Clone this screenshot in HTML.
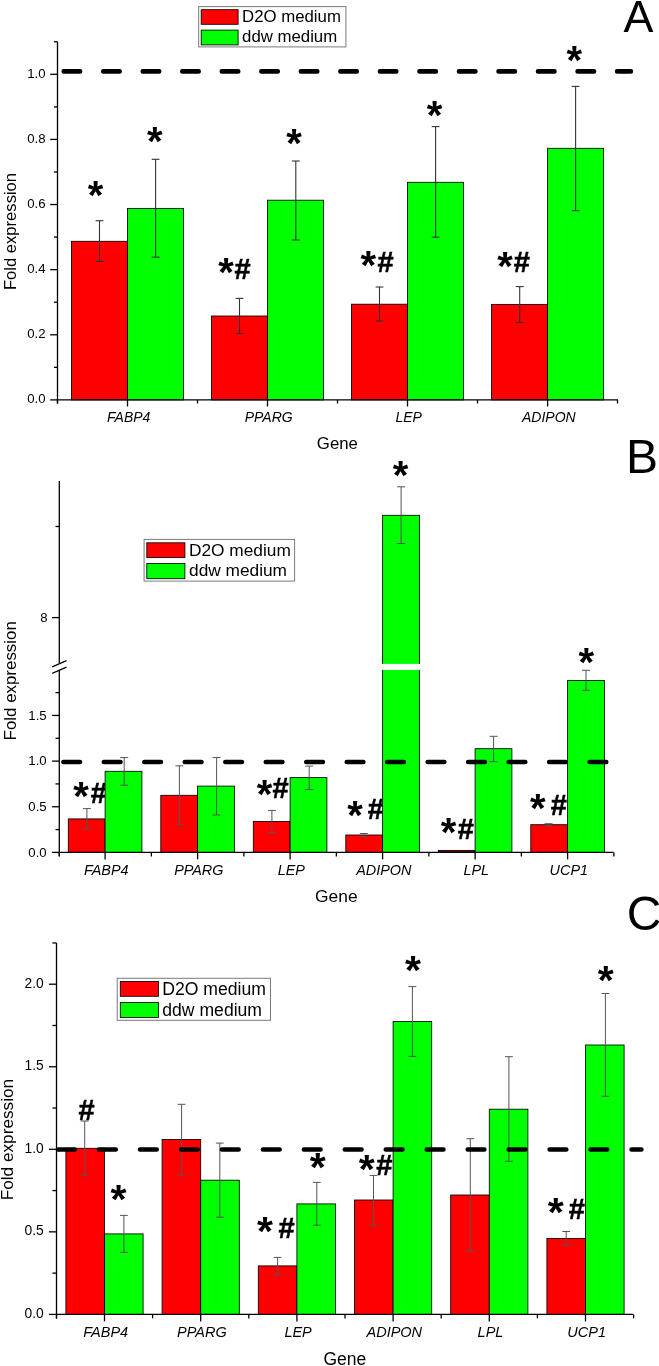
<!DOCTYPE html>
<html><head><meta charset="utf-8"><style>
html,body{margin:0;padding:0;background:#fff;overflow:hidden;}
svg{display:block;}
#w{will-change:transform;width:659px;height:1366px;}
text{font-family:"Liberation Sans",sans-serif;fill:#000;}
</style></head><body><div id="w">
<svg width="659" height="1366" viewBox="0 0 659 1366">
<line x1="57.50" y1="41.74" x2="57.50" y2="403.40" stroke="#000" stroke-width="1.3" />
<line x1="50.20" y1="399.90" x2="57.50" y2="399.90" stroke="#000" stroke-width="1.3" />
<text x="45.50" y="403.20" font-size="13.2" text-anchor="end" font-weight="normal" font-style="normal" >0.0</text>
<line x1="50.20" y1="334.78" x2="57.50" y2="334.78" stroke="#000" stroke-width="1.3" />
<text x="45.50" y="338.08" font-size="13.2" text-anchor="end" font-weight="normal" font-style="normal" >0.2</text>
<line x1="50.20" y1="269.66" x2="57.50" y2="269.66" stroke="#000" stroke-width="1.3" />
<text x="45.50" y="272.96" font-size="13.2" text-anchor="end" font-weight="normal" font-style="normal" >0.4</text>
<line x1="50.20" y1="204.54" x2="57.50" y2="204.54" stroke="#000" stroke-width="1.3" />
<text x="45.50" y="207.84" font-size="13.2" text-anchor="end" font-weight="normal" font-style="normal" >0.6</text>
<line x1="50.20" y1="139.42" x2="57.50" y2="139.42" stroke="#000" stroke-width="1.3" />
<text x="45.50" y="142.72" font-size="13.2" text-anchor="end" font-weight="normal" font-style="normal" >0.8</text>
<line x1="50.20" y1="74.30" x2="57.50" y2="74.30" stroke="#000" stroke-width="1.3" />
<text x="45.50" y="77.60" font-size="13.2" text-anchor="end" font-weight="normal" font-style="normal" >1.0</text>
<line x1="53.90" y1="367.34" x2="57.50" y2="367.34" stroke="#000" stroke-width="1.3" />
<line x1="53.90" y1="302.22" x2="57.50" y2="302.22" stroke="#000" stroke-width="1.3" />
<line x1="53.90" y1="237.10" x2="57.50" y2="237.10" stroke="#000" stroke-width="1.3" />
<line x1="53.90" y1="171.98" x2="57.50" y2="171.98" stroke="#000" stroke-width="1.3" />
<line x1="53.90" y1="106.86" x2="57.50" y2="106.86" stroke="#000" stroke-width="1.3" />
<line x1="53.90" y1="41.74" x2="57.50" y2="41.74" stroke="#000" stroke-width="1.3" />
<rect x="71.50" y="241.30" width="56.00" height="158.60" fill="#ff0000" stroke="#000" stroke-width="0.85"/>
<rect x="127.50" y="208.40" width="56.00" height="191.50" fill="#00ff00" stroke="#000" stroke-width="0.85"/>
<rect x="211.50" y="316.00" width="56.00" height="83.90" fill="#ff0000" stroke="#000" stroke-width="0.85"/>
<rect x="267.50" y="200.20" width="56.00" height="199.70" fill="#00ff00" stroke="#000" stroke-width="0.85"/>
<rect x="351.50" y="304.20" width="56.00" height="95.70" fill="#ff0000" stroke="#000" stroke-width="0.85"/>
<rect x="407.50" y="182.30" width="56.00" height="217.60" fill="#00ff00" stroke="#000" stroke-width="0.85"/>
<rect x="491.60" y="304.40" width="56.00" height="95.50" fill="#ff0000" stroke="#000" stroke-width="0.85"/>
<rect x="547.60" y="148.30" width="56.00" height="251.60" fill="#00ff00" stroke="#000" stroke-width="0.85"/>
<line x1="57.50" y1="399.90" x2="618.00" y2="399.90" stroke="#000" stroke-width="1.3" />
<line x1="127.50" y1="399.90" x2="127.50" y2="406.50" stroke="#000" stroke-width="1.3" />
<line x1="267.50" y1="399.90" x2="267.50" y2="406.50" stroke="#000" stroke-width="1.3" />
<line x1="407.50" y1="399.90" x2="407.50" y2="406.50" stroke="#000" stroke-width="1.3" />
<line x1="547.60" y1="399.90" x2="547.60" y2="406.50" stroke="#000" stroke-width="1.3" />
<line x1="57.50" y1="399.90" x2="57.50" y2="403.50" stroke="#000" stroke-width="1.3" />
<line x1="197.50" y1="399.90" x2="197.50" y2="403.50" stroke="#000" stroke-width="1.3" />
<line x1="337.50" y1="399.90" x2="337.50" y2="403.50" stroke="#000" stroke-width="1.3" />
<line x1="477.50" y1="399.90" x2="477.50" y2="403.50" stroke="#000" stroke-width="1.3" />
<line x1="617.50" y1="399.90" x2="617.50" y2="403.50" stroke="#000" stroke-width="1.3" />
<line x1="99.50" y1="220.70" x2="99.50" y2="261.50" stroke="#333" stroke-width="1.1" />
<line x1="95.60" y1="220.70" x2="103.40" y2="220.70" stroke="#333" stroke-width="1.1" />
<line x1="95.60" y1="261.50" x2="103.40" y2="261.50" stroke="#333" stroke-width="1.1" />
<line x1="155.60" y1="159.30" x2="155.60" y2="257.20" stroke="#333" stroke-width="1.1" />
<line x1="151.70" y1="159.30" x2="159.50" y2="159.30" stroke="#333" stroke-width="1.1" />
<line x1="151.70" y1="257.20" x2="159.50" y2="257.20" stroke="#333" stroke-width="1.1" />
<line x1="239.50" y1="298.40" x2="239.50" y2="333.50" stroke="#333" stroke-width="1.1" />
<line x1="235.60" y1="298.40" x2="243.40" y2="298.40" stroke="#333" stroke-width="1.1" />
<line x1="235.60" y1="333.50" x2="243.40" y2="333.50" stroke="#333" stroke-width="1.1" />
<line x1="295.80" y1="161.00" x2="295.80" y2="240.00" stroke="#333" stroke-width="1.1" />
<line x1="291.90" y1="161.00" x2="299.70" y2="161.00" stroke="#333" stroke-width="1.1" />
<line x1="291.90" y1="240.00" x2="299.70" y2="240.00" stroke="#333" stroke-width="1.1" />
<line x1="379.50" y1="287.00" x2="379.50" y2="321.00" stroke="#333" stroke-width="1.1" />
<line x1="375.60" y1="287.00" x2="383.40" y2="287.00" stroke="#333" stroke-width="1.1" />
<line x1="375.60" y1="321.00" x2="383.40" y2="321.00" stroke="#333" stroke-width="1.1" />
<line x1="435.60" y1="126.60" x2="435.60" y2="237.20" stroke="#333" stroke-width="1.1" />
<line x1="431.70" y1="126.60" x2="439.50" y2="126.60" stroke="#333" stroke-width="1.1" />
<line x1="431.70" y1="237.20" x2="439.50" y2="237.20" stroke="#333" stroke-width="1.1" />
<line x1="519.70" y1="286.60" x2="519.70" y2="322.50" stroke="#333" stroke-width="1.1" />
<line x1="515.80" y1="286.60" x2="523.60" y2="286.60" stroke="#333" stroke-width="1.1" />
<line x1="515.80" y1="322.50" x2="523.60" y2="322.50" stroke="#333" stroke-width="1.1" />
<line x1="575.60" y1="86.40" x2="575.60" y2="210.70" stroke="#333" stroke-width="1.1" />
<line x1="571.70" y1="86.40" x2="579.50" y2="86.40" stroke="#333" stroke-width="1.1" />
<line x1="571.70" y1="210.70" x2="579.50" y2="210.70" stroke="#333" stroke-width="1.1" />
<line x1="63.70" y1="71.40" x2="630.90" y2="71.40" stroke="#000" stroke-width="4.6" stroke-linecap="round" stroke-dasharray="16.40 23.13"/>
<text x="87.80" y="208.70" font-size="40.0" text-anchor="start" font-weight="bold" font-style="normal" >*</text>
<text x="147.10" y="154.80" font-size="40.0" text-anchor="start" font-weight="bold" font-style="normal" >*</text>
<text x="286.20" y="157.20" font-size="40.0" text-anchor="start" font-weight="bold" font-style="normal" >*</text>
<text x="426.80" y="128.90" font-size="40.0" text-anchor="start" font-weight="bold" font-style="normal" >*</text>
<text x="566.60" y="73.50" font-size="40.0" text-anchor="start" font-weight="bold" font-style="normal" >*</text>
<text x="218.20" y="286.10" font-size="40.0" text-anchor="start" font-weight="bold" font-style="normal" >*</text>
<text x="234.43" y="278.80" font-size="29.0" text-anchor="start" font-weight="bold" font-style="normal" stroke="#000" stroke-width="0.5">#</text>
<text x="360.60" y="279.10" font-size="40.0" text-anchor="start" font-weight="bold" font-style="normal" >*</text>
<text x="377.43" y="271.50" font-size="29.0" text-anchor="start" font-weight="bold" font-style="normal" stroke="#000" stroke-width="0.5">#</text>
<text x="497.30" y="280.00" font-size="40.0" text-anchor="start" font-weight="bold" font-style="normal" >*</text>
<text x="513.83" y="271.90" font-size="29.0" text-anchor="start" font-weight="bold" font-style="normal" stroke="#000" stroke-width="0.5">#</text>
<text x="128.70" y="421.90" font-size="14" text-anchor="middle" font-weight="normal" font-style="italic" >FABP4</text>
<text x="268.70" y="421.90" font-size="14" text-anchor="middle" font-weight="normal" font-style="italic" >PPARG</text>
<text x="408.70" y="421.90" font-size="14" text-anchor="middle" font-weight="normal" font-style="italic" >LEP</text>
<text x="548.80" y="421.90" font-size="14" text-anchor="middle" font-weight="normal" font-style="italic" >ADIPON</text>
<text x="337.40" y="448.60" font-size="16.8" text-anchor="middle" font-weight="normal" font-style="normal" >Gene</text>
<text x="0.00" y="0.00" font-size="16.6" text-anchor="middle" font-weight="normal" font-style="normal" transform="translate(15.9,231.5) rotate(-90)">Fold expression</text>
<rect x="198.70" y="6.60" width="147.20" height="40.30" fill="#fff" stroke="#7a7a7a" stroke-width="1.0"/>
<rect x="201.20" y="9.70" width="36.90" height="14.60" fill="#ff0000" stroke="#000" stroke-width="0.85"/>
<rect x="201.20" y="30.10" width="36.90" height="14.80" fill="#00ff00" stroke="#000" stroke-width="0.85"/>
<text x="242.06" y="22.30" font-size="16.8" text-anchor="start" font-weight="normal" font-style="normal" >D2O medium</text>
<text x="242.06" y="42.20" font-size="16.8" text-anchor="start" font-weight="normal" font-style="normal" >ddw medium</text>
<text x="623.60" y="32.20" font-size="44.8" text-anchor="start" font-weight="normal" font-style="normal" >A</text>
<line x1="59.30" y1="481.00" x2="59.30" y2="663.20" stroke="#000" stroke-width="1.3" />
<line x1="59.30" y1="669.80" x2="59.30" y2="856.20" stroke="#000" stroke-width="1.3" />
<line x1="52.20" y1="666.90" x2="66.50" y2="660.60" stroke="#000" stroke-width="1.2" />
<line x1="52.20" y1="673.40" x2="66.50" y2="667.10" stroke="#000" stroke-width="1.2" />
<line x1="52.10" y1="852.40" x2="59.30" y2="852.40" stroke="#000" stroke-width="1.3" />
<text x="46.70" y="856.70" font-size="13.2" text-anchor="end" font-weight="normal" font-style="normal" >0.0</text>
<line x1="52.10" y1="806.75" x2="59.30" y2="806.75" stroke="#000" stroke-width="1.3" />
<text x="46.70" y="811.05" font-size="13.2" text-anchor="end" font-weight="normal" font-style="normal" >0.5</text>
<line x1="52.10" y1="761.10" x2="59.30" y2="761.10" stroke="#000" stroke-width="1.3" />
<text x="46.70" y="765.40" font-size="13.2" text-anchor="end" font-weight="normal" font-style="normal" >1.0</text>
<line x1="52.10" y1="715.45" x2="59.30" y2="715.45" stroke="#000" stroke-width="1.3" />
<text x="46.70" y="719.75" font-size="13.2" text-anchor="end" font-weight="normal" font-style="normal" >1.5</text>
<line x1="55.50" y1="829.57" x2="59.30" y2="829.57" stroke="#000" stroke-width="1.3" />
<line x1="55.50" y1="783.92" x2="59.30" y2="783.92" stroke="#000" stroke-width="1.3" />
<line x1="55.50" y1="738.27" x2="59.30" y2="738.27" stroke="#000" stroke-width="1.3" />
<line x1="55.50" y1="692.62" x2="59.30" y2="692.62" stroke="#000" stroke-width="1.3" />
<line x1="52.10" y1="617.60" x2="59.30" y2="617.60" stroke="#000" stroke-width="1.3" />
<text x="47.70" y="621.90" font-size="13.2" text-anchor="end" font-weight="normal" font-style="normal" >8</text>
<line x1="55.50" y1="526.50" x2="59.30" y2="526.50" stroke="#000" stroke-width="1.3" />
<text x="73.30" y="809.80" font-size="40.0" text-anchor="start" font-weight="bold" font-style="normal" >*</text>
<text x="90.73" y="803.10" font-size="29.0" text-anchor="start" font-weight="bold" font-style="normal" stroke="#000" stroke-width="0.5">#</text>
<text x="256.70" y="807.50" font-size="40.0" text-anchor="start" font-weight="bold" font-style="normal" >*</text>
<text x="272.53" y="798.20" font-size="29.0" text-anchor="start" font-weight="bold" font-style="normal" stroke="#000" stroke-width="0.5">#</text>
<text x="347.20" y="828.70" font-size="40.0" text-anchor="start" font-weight="bold" font-style="normal" >*</text>
<text x="367.63" y="819.30" font-size="29.0" text-anchor="start" font-weight="bold" font-style="normal" stroke="#000" stroke-width="0.5">#</text>
<text x="440.70" y="846.10" font-size="40.0" text-anchor="start" font-weight="bold" font-style="normal" >*</text>
<text x="457.83" y="838.80" font-size="29.0" text-anchor="start" font-weight="bold" font-style="normal" stroke="#000" stroke-width="0.5">#</text>
<text x="530.00" y="822.00" font-size="40.0" text-anchor="start" font-weight="bold" font-style="normal" >*</text>
<text x="550.63" y="815.00" font-size="29.0" text-anchor="start" font-weight="bold" font-style="normal" stroke="#000" stroke-width="0.5">#</text>
<text x="392.80" y="488.80" font-size="40.0" text-anchor="start" font-weight="bold" font-style="normal" >*</text>
<text x="578.50" y="676.00" font-size="40.0" text-anchor="start" font-weight="bold" font-style="normal" >*</text>
<rect x="68.30" y="818.90" width="36.80" height="33.50" fill="#ff0000" stroke="#000" stroke-width="0.85"/>
<rect x="105.10" y="771.30" width="36.80" height="81.10" fill="#00ff00" stroke="#000" stroke-width="0.85"/>
<rect x="160.80" y="795.30" width="36.80" height="57.10" fill="#ff0000" stroke="#000" stroke-width="0.85"/>
<rect x="197.60" y="786.10" width="36.80" height="66.30" fill="#00ff00" stroke="#000" stroke-width="0.85"/>
<rect x="253.30" y="821.40" width="36.80" height="31.00" fill="#ff0000" stroke="#000" stroke-width="0.85"/>
<rect x="290.10" y="777.60" width="36.80" height="74.80" fill="#00ff00" stroke="#000" stroke-width="0.85"/>
<rect x="345.80" y="835.00" width="36.80" height="17.40" fill="#ff0000" stroke="#000" stroke-width="0.85"/>
<rect x="382.60" y="515.30" width="36.80" height="337.10" fill="#00ff00" stroke="#000" stroke-width="0.85"/>
<rect x="438.30" y="850.40" width="36.80" height="2.00" fill="#700000" stroke="#000" stroke-width="0.85"/>
<rect x="475.10" y="748.70" width="36.80" height="103.70" fill="#00ff00" stroke="#000" stroke-width="0.85"/>
<rect x="530.80" y="824.70" width="36.80" height="27.70" fill="#ff0000" stroke="#000" stroke-width="0.85"/>
<rect x="567.60" y="680.50" width="36.80" height="171.90" fill="#00ff00" stroke="#000" stroke-width="0.85"/>
<rect x="381.60" y="663.9" width="38.80" height="6.0" fill="#fff"/>
<line x1="59.30" y1="852.40" x2="613.60" y2="852.40" stroke="#000" stroke-width="1.3" />
<line x1="105.10" y1="852.40" x2="105.10" y2="859.40" stroke="#000" stroke-width="1.3" />
<line x1="197.60" y1="852.40" x2="197.60" y2="859.40" stroke="#000" stroke-width="1.3" />
<line x1="290.10" y1="852.40" x2="290.10" y2="859.40" stroke="#000" stroke-width="1.3" />
<line x1="382.60" y1="852.40" x2="382.60" y2="859.40" stroke="#000" stroke-width="1.3" />
<line x1="475.10" y1="852.40" x2="475.10" y2="859.40" stroke="#000" stroke-width="1.3" />
<line x1="567.60" y1="852.40" x2="567.60" y2="859.40" stroke="#000" stroke-width="1.3" />
<line x1="59.30" y1="852.40" x2="59.30" y2="856.40" stroke="#000" stroke-width="1.3" />
<line x1="151.35" y1="852.40" x2="151.35" y2="856.40" stroke="#000" stroke-width="1.3" />
<line x1="243.85" y1="852.40" x2="243.85" y2="856.40" stroke="#000" stroke-width="1.3" />
<line x1="336.35" y1="852.40" x2="336.35" y2="856.40" stroke="#000" stroke-width="1.3" />
<line x1="428.85" y1="852.40" x2="428.85" y2="856.40" stroke="#000" stroke-width="1.3" />
<line x1="521.35" y1="852.40" x2="521.35" y2="856.40" stroke="#000" stroke-width="1.3" />
<line x1="613.85" y1="852.40" x2="613.85" y2="856.40" stroke="#000" stroke-width="1.3" />
<line x1="86.90" y1="808.60" x2="86.90" y2="828.90" stroke="#555" stroke-width="1.0" />
<line x1="82.90" y1="808.60" x2="90.90" y2="808.60" stroke="#555" stroke-width="1.0" />
<line x1="82.90" y1="828.90" x2="90.90" y2="828.90" stroke="#555" stroke-width="1.0" />
<line x1="124.20" y1="757.60" x2="124.20" y2="785.20" stroke="#555" stroke-width="1.0" />
<line x1="120.20" y1="757.60" x2="128.20" y2="757.60" stroke="#555" stroke-width="1.0" />
<line x1="120.20" y1="785.20" x2="128.20" y2="785.20" stroke="#555" stroke-width="1.0" />
<line x1="179.40" y1="765.80" x2="179.40" y2="824.70" stroke="#555" stroke-width="1.0" />
<line x1="175.40" y1="765.80" x2="183.40" y2="765.80" stroke="#555" stroke-width="1.0" />
<line x1="175.40" y1="824.70" x2="183.40" y2="824.70" stroke="#555" stroke-width="1.0" />
<line x1="216.60" y1="757.60" x2="216.60" y2="815.00" stroke="#555" stroke-width="1.0" />
<line x1="212.60" y1="757.60" x2="220.60" y2="757.60" stroke="#555" stroke-width="1.0" />
<line x1="212.60" y1="815.00" x2="220.60" y2="815.00" stroke="#555" stroke-width="1.0" />
<line x1="271.90" y1="810.40" x2="271.90" y2="832.60" stroke="#555" stroke-width="1.0" />
<line x1="267.90" y1="810.40" x2="275.90" y2="810.40" stroke="#555" stroke-width="1.0" />
<line x1="267.90" y1="832.60" x2="275.90" y2="832.60" stroke="#555" stroke-width="1.0" />
<line x1="309.20" y1="766.10" x2="309.20" y2="789.50" stroke="#555" stroke-width="1.0" />
<line x1="305.20" y1="766.10" x2="313.20" y2="766.10" stroke="#555" stroke-width="1.0" />
<line x1="305.20" y1="789.50" x2="313.20" y2="789.50" stroke="#555" stroke-width="1.0" />
<line x1="363.80" y1="833.50" x2="363.80" y2="836.50" stroke="#555" stroke-width="1.0" />
<line x1="359.80" y1="833.50" x2="367.80" y2="833.50" stroke="#555" stroke-width="1.0" />
<line x1="359.80" y1="836.50" x2="367.80" y2="836.50" stroke="#555" stroke-width="1.0" />
<line x1="401.10" y1="486.80" x2="401.10" y2="543.50" stroke="#555" stroke-width="1.0" />
<line x1="397.10" y1="486.80" x2="405.10" y2="486.80" stroke="#555" stroke-width="1.0" />
<line x1="397.10" y1="543.50" x2="405.10" y2="543.50" stroke="#555" stroke-width="1.0" />
<line x1="493.60" y1="736.30" x2="493.60" y2="761.70" stroke="#555" stroke-width="1.0" />
<line x1="489.60" y1="736.30" x2="497.60" y2="736.30" stroke="#555" stroke-width="1.0" />
<line x1="489.60" y1="761.70" x2="497.60" y2="761.70" stroke="#555" stroke-width="1.0" />
<line x1="548.60" y1="823.70" x2="548.60" y2="825.70" stroke="#555" stroke-width="1.0" />
<line x1="544.60" y1="823.70" x2="552.60" y2="823.70" stroke="#555" stroke-width="1.0" />
<line x1="544.60" y1="825.70" x2="552.60" y2="825.70" stroke="#555" stroke-width="1.0" />
<line x1="586.00" y1="670.30" x2="586.00" y2="690.30" stroke="#555" stroke-width="1.0" />
<line x1="582.00" y1="670.30" x2="590.00" y2="670.30" stroke="#555" stroke-width="1.0" />
<line x1="582.00" y1="690.30" x2="590.00" y2="690.30" stroke="#555" stroke-width="1.0" />
<line x1="63.40" y1="762.00" x2="612.00" y2="762.00" stroke="#000" stroke-width="4.6" stroke-linecap="round" stroke-dasharray="16.60 23.88"/>
<text x="106.30" y="874.70" font-size="14.4" text-anchor="middle" font-weight="normal" font-style="italic" >FABP4</text>
<text x="198.80" y="874.70" font-size="14.4" text-anchor="middle" font-weight="normal" font-style="italic" >PPARG</text>
<text x="291.30" y="874.70" font-size="14.4" text-anchor="middle" font-weight="normal" font-style="italic" >LEP</text>
<text x="383.80" y="874.70" font-size="14.4" text-anchor="middle" font-weight="normal" font-style="italic" >ADIPON</text>
<text x="476.30" y="874.70" font-size="14.4" text-anchor="middle" font-weight="normal" font-style="italic" >LPL</text>
<text x="568.80" y="874.70" font-size="14.4" text-anchor="middle" font-weight="normal" font-style="italic" >UCP1</text>
<text x="336.30" y="901.60" font-size="17.4" text-anchor="middle" font-weight="normal" font-style="normal" >Gene</text>
<text x="0.00" y="0.00" font-size="16.9" text-anchor="middle" font-weight="normal" font-style="normal" transform="translate(15.9,680.8) rotate(-90)">Fold expression</text>
<rect x="144.10" y="539.40" width="150.50" height="41.70" fill="#fff" stroke="#7a7a7a" stroke-width="1.0"/>
<rect x="146.80" y="542.80" width="38.10" height="14.80" fill="#ff0000" stroke="#000" stroke-width="0.85"/>
<rect x="146.80" y="563.40" width="38.10" height="15.30" fill="#00ff00" stroke="#000" stroke-width="0.85"/>
<text x="189.02" y="555.60" font-size="17.3" text-anchor="start" font-weight="normal" font-style="normal" >D2O medium</text>
<text x="189.02" y="576.30" font-size="17.3" text-anchor="start" font-weight="normal" font-style="normal" >ddw medium</text>
<text x="626.06" y="472.60" font-size="48" text-anchor="start" font-weight="normal" font-style="normal" >B</text>
<line x1="56.50" y1="942.93" x2="56.50" y2="1318.70" stroke="#000" stroke-width="1.3" />
<line x1="48.90" y1="1314.40" x2="56.50" y2="1314.40" stroke="#000" stroke-width="1.3" />
<text x="43.70" y="1317.90" font-size="13.8" text-anchor="end" font-weight="normal" font-style="normal" >0.0</text>
<line x1="48.90" y1="1231.85" x2="56.50" y2="1231.85" stroke="#000" stroke-width="1.3" />
<text x="43.70" y="1235.35" font-size="13.8" text-anchor="end" font-weight="normal" font-style="normal" >0.5</text>
<line x1="48.90" y1="1149.30" x2="56.50" y2="1149.30" stroke="#000" stroke-width="1.3" />
<text x="43.70" y="1152.80" font-size="13.8" text-anchor="end" font-weight="normal" font-style="normal" >1.0</text>
<line x1="48.90" y1="1066.75" x2="56.50" y2="1066.75" stroke="#000" stroke-width="1.3" />
<text x="43.70" y="1070.25" font-size="13.8" text-anchor="end" font-weight="normal" font-style="normal" >1.5</text>
<line x1="48.90" y1="984.20" x2="56.50" y2="984.20" stroke="#000" stroke-width="1.3" />
<text x="43.70" y="987.70" font-size="13.8" text-anchor="end" font-weight="normal" font-style="normal" >2.0</text>
<line x1="52.40" y1="1273.12" x2="56.50" y2="1273.12" stroke="#000" stroke-width="1.3" />
<line x1="52.40" y1="1190.58" x2="56.50" y2="1190.58" stroke="#000" stroke-width="1.3" />
<line x1="52.40" y1="1108.03" x2="56.50" y2="1108.03" stroke="#000" stroke-width="1.3" />
<line x1="52.40" y1="1025.48" x2="56.50" y2="1025.48" stroke="#000" stroke-width="1.3" />
<line x1="52.40" y1="942.93" x2="56.50" y2="942.93" stroke="#000" stroke-width="1.3" />
<rect x="65.90" y="1148.30" width="38.60" height="166.10" fill="#ff0000" stroke="#000" stroke-width="0.85"/>
<rect x="104.50" y="1233.90" width="38.60" height="80.50" fill="#00ff00" stroke="#000" stroke-width="0.85"/>
<rect x="162.10" y="1139.50" width="38.60" height="174.90" fill="#ff0000" stroke="#000" stroke-width="0.85"/>
<rect x="200.70" y="1180.20" width="38.60" height="134.20" fill="#00ff00" stroke="#000" stroke-width="0.85"/>
<rect x="258.30" y="1265.90" width="38.60" height="48.50" fill="#ff0000" stroke="#000" stroke-width="0.85"/>
<rect x="296.90" y="1203.90" width="38.60" height="110.50" fill="#00ff00" stroke="#000" stroke-width="0.85"/>
<rect x="354.50" y="1200.00" width="38.60" height="114.40" fill="#ff0000" stroke="#000" stroke-width="0.85"/>
<rect x="393.10" y="1021.50" width="38.60" height="292.90" fill="#00ff00" stroke="#000" stroke-width="0.85"/>
<rect x="450.70" y="1195.00" width="38.60" height="119.40" fill="#ff0000" stroke="#000" stroke-width="0.85"/>
<rect x="489.30" y="1109.20" width="38.60" height="205.20" fill="#00ff00" stroke="#000" stroke-width="0.85"/>
<rect x="546.90" y="1238.40" width="38.60" height="76.00" fill="#ff0000" stroke="#000" stroke-width="0.85"/>
<rect x="585.50" y="1045.00" width="38.60" height="269.40" fill="#00ff00" stroke="#000" stroke-width="0.85"/>
<line x1="56.50" y1="1314.40" x2="633.30" y2="1314.40" stroke="#000" stroke-width="1.3" />
<line x1="104.50" y1="1314.40" x2="104.50" y2="1321.40" stroke="#000" stroke-width="1.3" />
<line x1="200.70" y1="1314.40" x2="200.70" y2="1321.40" stroke="#000" stroke-width="1.3" />
<line x1="296.90" y1="1314.40" x2="296.90" y2="1321.40" stroke="#000" stroke-width="1.3" />
<line x1="393.10" y1="1314.40" x2="393.10" y2="1321.40" stroke="#000" stroke-width="1.3" />
<line x1="489.30" y1="1314.40" x2="489.30" y2="1321.40" stroke="#000" stroke-width="1.3" />
<line x1="585.50" y1="1314.40" x2="585.50" y2="1321.40" stroke="#000" stroke-width="1.3" />
<line x1="56.50" y1="1314.40" x2="56.50" y2="1318.40" stroke="#000" stroke-width="1.3" />
<line x1="152.60" y1="1314.40" x2="152.60" y2="1318.40" stroke="#000" stroke-width="1.3" />
<line x1="248.80" y1="1314.40" x2="248.80" y2="1318.40" stroke="#000" stroke-width="1.3" />
<line x1="345.00" y1="1314.40" x2="345.00" y2="1318.40" stroke="#000" stroke-width="1.3" />
<line x1="441.20" y1="1314.40" x2="441.20" y2="1318.40" stroke="#000" stroke-width="1.3" />
<line x1="537.40" y1="1314.40" x2="537.40" y2="1318.40" stroke="#000" stroke-width="1.3" />
<line x1="633.60" y1="1314.40" x2="633.60" y2="1318.40" stroke="#000" stroke-width="1.3" />
<line x1="84.70" y1="1121.00" x2="84.70" y2="1175.00" stroke="#555" stroke-width="1.0" />
<line x1="80.80" y1="1121.00" x2="88.60" y2="1121.00" stroke="#555" stroke-width="1.0" />
<line x1="80.80" y1="1175.00" x2="88.60" y2="1175.00" stroke="#555" stroke-width="1.0" />
<line x1="123.90" y1="1215.40" x2="123.90" y2="1252.40" stroke="#555" stroke-width="1.0" />
<line x1="120.00" y1="1215.40" x2="127.80" y2="1215.40" stroke="#555" stroke-width="1.0" />
<line x1="120.00" y1="1252.40" x2="127.80" y2="1252.40" stroke="#555" stroke-width="1.0" />
<line x1="181.60" y1="1104.30" x2="181.60" y2="1175.00" stroke="#555" stroke-width="1.0" />
<line x1="177.70" y1="1104.30" x2="185.50" y2="1104.30" stroke="#555" stroke-width="1.0" />
<line x1="177.70" y1="1175.00" x2="185.50" y2="1175.00" stroke="#555" stroke-width="1.0" />
<line x1="219.80" y1="1143.10" x2="219.80" y2="1217.20" stroke="#555" stroke-width="1.0" />
<line x1="215.90" y1="1143.10" x2="223.70" y2="1143.10" stroke="#555" stroke-width="1.0" />
<line x1="215.90" y1="1217.20" x2="223.70" y2="1217.20" stroke="#555" stroke-width="1.0" />
<line x1="277.60" y1="1257.40" x2="277.60" y2="1274.70" stroke="#555" stroke-width="1.0" />
<line x1="273.70" y1="1257.40" x2="281.50" y2="1257.40" stroke="#555" stroke-width="1.0" />
<line x1="273.70" y1="1274.70" x2="281.50" y2="1274.70" stroke="#555" stroke-width="1.0" />
<line x1="316.80" y1="1182.40" x2="316.80" y2="1225.20" stroke="#555" stroke-width="1.0" />
<line x1="312.90" y1="1182.40" x2="320.70" y2="1182.40" stroke="#555" stroke-width="1.0" />
<line x1="312.90" y1="1225.20" x2="320.70" y2="1225.20" stroke="#555" stroke-width="1.0" />
<line x1="373.50" y1="1175.40" x2="373.50" y2="1225.20" stroke="#555" stroke-width="1.0" />
<line x1="369.60" y1="1175.40" x2="377.40" y2="1175.40" stroke="#555" stroke-width="1.0" />
<line x1="369.60" y1="1225.20" x2="377.40" y2="1225.20" stroke="#555" stroke-width="1.0" />
<line x1="412.40" y1="986.60" x2="412.40" y2="1056.40" stroke="#555" stroke-width="1.0" />
<line x1="408.50" y1="986.60" x2="416.30" y2="986.60" stroke="#555" stroke-width="1.0" />
<line x1="408.50" y1="1056.40" x2="416.30" y2="1056.40" stroke="#555" stroke-width="1.0" />
<line x1="470.30" y1="1138.70" x2="470.30" y2="1251.30" stroke="#555" stroke-width="1.0" />
<line x1="466.40" y1="1138.70" x2="474.20" y2="1138.70" stroke="#555" stroke-width="1.0" />
<line x1="466.40" y1="1251.30" x2="474.20" y2="1251.30" stroke="#555" stroke-width="1.0" />
<line x1="508.90" y1="1056.70" x2="508.90" y2="1161.30" stroke="#555" stroke-width="1.0" />
<line x1="505.00" y1="1056.70" x2="512.80" y2="1056.70" stroke="#555" stroke-width="1.0" />
<line x1="505.00" y1="1161.30" x2="512.80" y2="1161.30" stroke="#555" stroke-width="1.0" />
<line x1="566.20" y1="1231.50" x2="566.20" y2="1245.40" stroke="#555" stroke-width="1.0" />
<line x1="562.30" y1="1231.50" x2="570.10" y2="1231.50" stroke="#555" stroke-width="1.0" />
<line x1="562.30" y1="1245.40" x2="570.10" y2="1245.40" stroke="#555" stroke-width="1.0" />
<line x1="605.40" y1="993.50" x2="605.40" y2="1096.30" stroke="#555" stroke-width="1.0" />
<line x1="601.50" y1="993.50" x2="609.30" y2="993.50" stroke="#555" stroke-width="1.0" />
<line x1="601.50" y1="1096.30" x2="609.30" y2="1096.30" stroke="#555" stroke-width="1.0" />
<line x1="58.10" y1="1149.50" x2="641.40" y2="1149.50" stroke="#000" stroke-width="4.6" stroke-linecap="round" stroke-dasharray="16.70 24.26"/>
<text x="78.43" y="1119.70" font-size="29.0" text-anchor="start" font-weight="bold" font-style="normal" stroke="#000" stroke-width="0.5">#</text>
<text x="110.60" y="1213.29" font-size="41" text-anchor="start" font-weight="bold" font-style="normal" >*</text>
<text x="257.00" y="1244.69" font-size="41" text-anchor="start" font-weight="bold" font-style="normal" >*</text>
<text x="278.43" y="1237.70" font-size="29.0" text-anchor="start" font-weight="bold" font-style="normal" stroke="#000" stroke-width="0.5">#</text>
<text x="309.70" y="1181.49" font-size="41" text-anchor="start" font-weight="bold" font-style="normal" >*</text>
<text x="358.70" y="1182.79" font-size="41" text-anchor="start" font-weight="bold" font-style="normal" >*</text>
<text x="376.13" y="1175.00" font-size="29.0" text-anchor="start" font-weight="bold" font-style="normal" stroke="#000" stroke-width="0.5">#</text>
<text x="405.00" y="984.09" font-size="41" text-anchor="start" font-weight="bold" font-style="normal" >*</text>
<text x="547.80" y="1226.29" font-size="41" text-anchor="start" font-weight="bold" font-style="normal" >*</text>
<text x="568.83" y="1219.20" font-size="29.0" text-anchor="start" font-weight="bold" font-style="normal" stroke="#000" stroke-width="0.5">#</text>
<text x="597.70" y="994.09" font-size="41" text-anchor="start" font-weight="bold" font-style="normal" >*</text>
<text x="105.70" y="1337.30" font-size="14.5" text-anchor="middle" font-weight="normal" font-style="italic" >FABP4</text>
<text x="201.90" y="1337.30" font-size="14.5" text-anchor="middle" font-weight="normal" font-style="italic" >PPARG</text>
<text x="298.10" y="1337.30" font-size="14.5" text-anchor="middle" font-weight="normal" font-style="italic" >LEP</text>
<text x="394.30" y="1337.30" font-size="14.5" text-anchor="middle" font-weight="normal" font-style="italic" >ADIPON</text>
<text x="490.50" y="1337.30" font-size="14.5" text-anchor="middle" font-weight="normal" font-style="italic" >LPL</text>
<text x="586.70" y="1337.30" font-size="14.5" text-anchor="middle" font-weight="normal" font-style="italic" >UCP1</text>
<text x="344.90" y="1364.50" font-size="17.5" text-anchor="middle" font-weight="normal" font-style="normal" >Gene</text>
<text x="0.00" y="0.00" font-size="17.2" text-anchor="middle" font-weight="normal" font-style="normal" transform="translate(12.6,1139.6) rotate(-90)">Fold expression</text>
<rect x="117.20" y="978.30" width="153.30" height="42.00" fill="#fff" stroke="#7a7a7a" stroke-width="1.0"/>
<rect x="120.30" y="981.40" width="38.20" height="14.90" fill="#ff0000" stroke="#000" stroke-width="0.85"/>
<rect x="120.30" y="1002.50" width="38.20" height="15.00" fill="#00ff00" stroke="#000" stroke-width="0.85"/>
<text x="162.29" y="995.00" font-size="17.6" text-anchor="start" font-weight="normal" font-style="normal" >D2O medium</text>
<text x="162.29" y="1015.90" font-size="17.6" text-anchor="start" font-weight="normal" font-style="normal" >ddw medium</text>
<text x="626.70" y="930.40" font-size="48" text-anchor="start" font-weight="normal" font-style="normal" >C</text>
</svg></div>
</body></html>
